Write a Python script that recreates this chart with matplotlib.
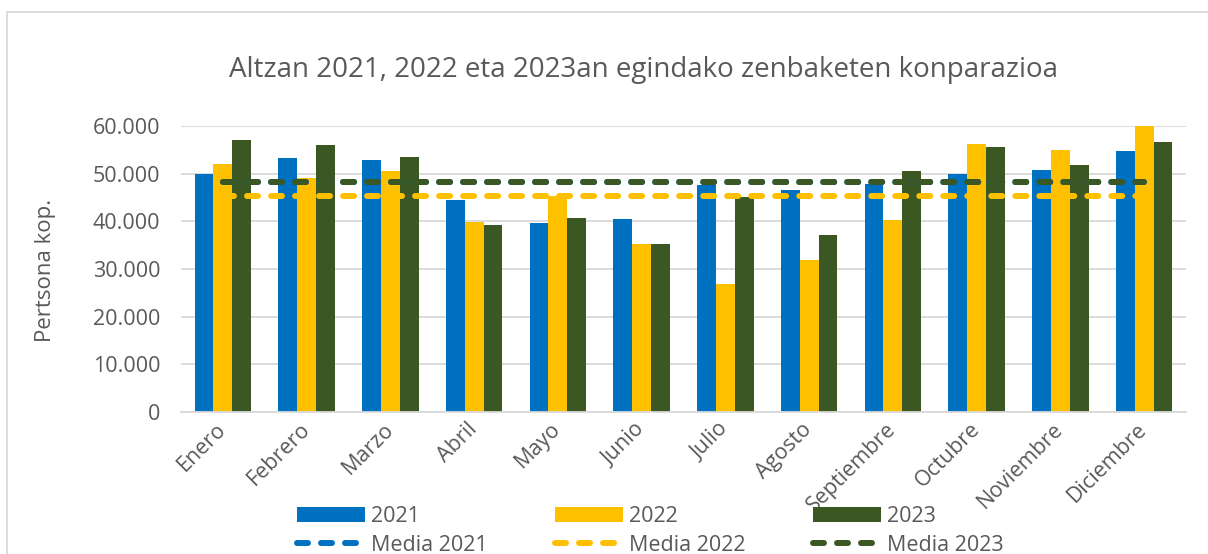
import numpy as np
import matplotlib
matplotlib.use("Agg")
from matplotlib import pyplot as plt
from matplotlib.patches import Rectangle

months = ['Enero', 'Febrero', 'Marzo', 'Abril', 'Mayo', 'Junio', 'Julio',
          'Agosto', 'Septiembre', 'Octubre', 'Noviembre', 'Diciembre']
v2021 = [49900, 53250, 52800, 44400, 39700, 40550, 47550, 46500, 47750, 49900, 50800, 54800]
v2022 = [52000, 49150, 50600, 39950, 45300, 35300, 26800, 31950, 40350, 56250, 54900, 60000]
v2023 = [57150, 56100, 53500, 39200, 40650, 35300, 45100, 37100, 50500, 55600, 51850, 56600]
media_2021 = 48150
media_2022 = 45250
media_2023 = 48200

blue = '#0070C0'
yellow = '#FFC000'
green = '#3A5724'
grey_txt = '#595959'
grid_c = '#D9D9D9'

plt.rcParams['font.family'] = ['Open Sans', 'DejaVu Sans']

fig = plt.figure(figsize=(12.08, 5.54), dpi=100)
ax = fig.add_axes([181 / 1208, 1 - 412 / 554, 1005 / 1208, 286 / 554])

x = np.arange(len(months))
w = 0.225
b1 = ax.bar(x - w, v2021, w, color=blue, label='2021')
b2 = ax.bar(x, v2022, w, color=yellow, label='2022')
b3 = ax.bar(x + w, v2023, w, color=green, label='2023')

lw = 4.3
dash = (1.84, 2.18)
l1, = ax.plot(x, np.full(len(x), media_2021), color=blue, lw=lw, dashes=dash,
              dash_capstyle='round', label='Media 2021')
l2, = ax.plot(x, np.full(len(x), media_2022), color=yellow, lw=lw, dashes=dash,
              dash_capstyle='round', label='Media 2022')
l3, = ax.plot(x, np.full(len(x), media_2023), color=green, lw=lw, dashes=dash,
              dash_capstyle='round', label='Media 2023')

ax.set_xlim(-0.5, len(months) - 0.5)
ax.set_ylim(0, 60000)
ax.set_yticks(np.arange(0, 60001, 10000))
ax.set_yticklabels(['0'] + ['{:,}'.format(v).replace(',', '.') for v in range(10000, 60001, 10000)])
ax.yaxis.grid(True, color=grid_c, lw=1.3)
ax.set_axisbelow(True)
for s in ['top', 'right', 'left']:
    ax.spines[s].set_visible(False)
ax.spines['bottom'].set_color(grid_c)
ax.spines['bottom'].set_linewidth(1.3)
ax.tick_params(axis='y', length=0, pad=15, labelsize=15.5, labelcolor=grey_txt)
ax.tick_params(axis='x', length=0, pad=6, labelsize=15.5, labelcolor=grey_txt)
ax.set_xticks(x)
ax.set_xticklabels(months, rotation=45, ha='right', va='center', rotation_mode='anchor')
for t in ax.get_xticklabels():
    t.set_y(-0.02)

fig.text(644 / 1208, 1 - 70 / 554, 'Altzan 2021, 2022 eta 2023an egindako zenbaketen konparazioa',
         ha='center', va='center', fontsize=20, color=grey_txt)
fig.text(45 / 1208, 1 - 270 / 554, 'Pertsona kop.', rotation=90, ha='center', va='center',
         fontsize=16, color=grey_txt)

fig.legend([b1, l1, b2, l2, b3, l3],
           ['2021', 'Media 2021', '2022', 'Media 2022', '2023', 'Media 2023'],
           ncol=3, loc='upper left', bbox_to_anchor=(297 / 1208, 1 - 506 / 554),
           frameon=False, fontsize=15.5, labelcolor=grey_txt, borderpad=0,
           borderaxespad=0, handlelength=3.16, handleheight=0.7, handletextpad=0.3,
           columnspacing=3.1, labelspacing=0.35)

fig.patches.append(Rectangle((7 / 1208, -0.1), 1.2, 1 - 12 / 554 + 0.1, transform=fig.transFigure,
                             fill=False, edgecolor=grid_c, lw=1.3))

fig.savefig('out.png', dpi=100)
